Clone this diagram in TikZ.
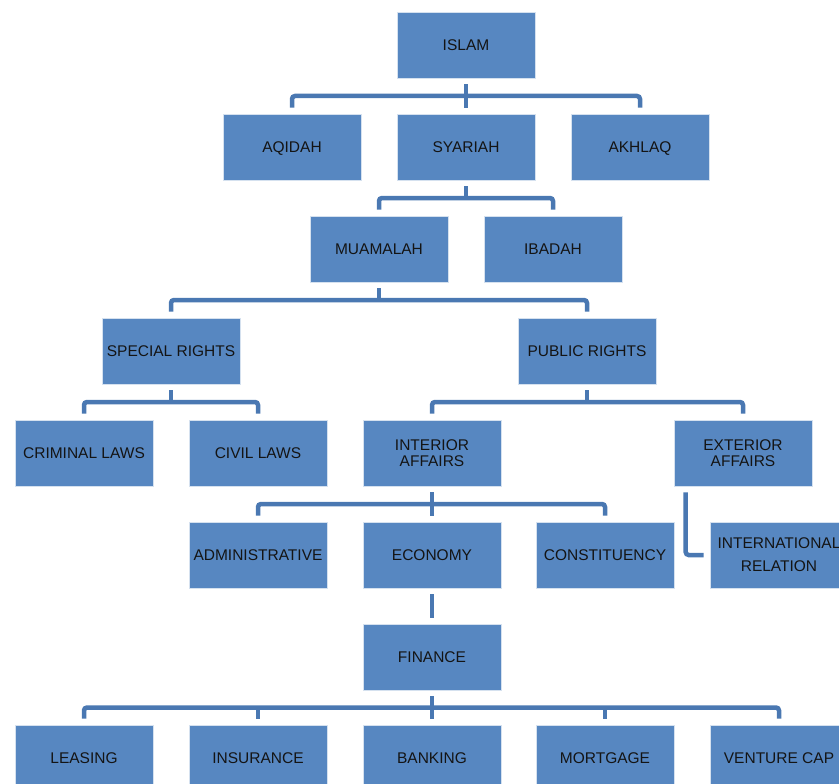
\documentclass[tikz,border=0pt]{standalone}
\usepackage{fontspec}
\setmainfont{Liberation Sans}
\usetikzlibrary{calc}
\definecolor{boxblue}{HTML}{5787C1}
\definecolor{linkblue}{HTML}{4A78B2}
\definecolor{inkdark}{HTML}{141414}
\begin{document}
\begin{tikzpicture}[x=1pt,y=-1pt,
  unit/.style={rectangle, fill=boxblue, draw=white!75!boxblue, line width=0.6pt,
    minimum width=138pt, minimum height=66pt, inner sep=0pt, align=center,
    text=inkdark, font=\fontsize{15.5}{16}\selectfont},
  nodepth/.style={text depth=0pt},
  link/.style={draw=linkblue, line width=4.5pt, rounded corners=3pt}]
\clip (0,0) rectangle (839,784);
\fill[white] (0,0) rectangle (839,784);

% boxes
\node[unit] (islam)     at (466,45)  {ISLAM};
\node[unit,nodepth] (aqidah) at (292,147) {AQIDAH};
\node[unit] (syariah)   at (466,147) {SYARIAH};
\node[unit,nodepth] (akhlaq) at (640,147) {AKHLAQ};
\node[unit] (muamalah)  at (379,249) {MUAMALAH};
\node[unit] (ibadah)    at (553,249) {IBADAH};
\node[unit] (special)   at (171,351) {SPECIAL RIGHTS};
\node[unit] (public)    at (587,351) {PUBLIC RIGHTS};
\node[unit] (criminal)  at (84,453)  {CRIMINAL LAWS};
\node[unit] (civil)     at (258,453) {CIVIL LAWS};
\node[unit] (interior)  at (432,453) {INTERIOR\\AFFAIRS};
\node[unit] (exterior)  at (743,453) {EXTERIOR\\AFFAIRS};
\node[unit] (admin)     at (258,555) {ADMINISTRATIVE};
\node[unit] (economy)   at (432,555) {ECONOMY};
\node[unit] (constit)   at (605,555) {CONSTITUENCY};
\node[unit] (intl)      at (779,555) {INTERNATIONAL\\[7pt]RELATION};
\node[unit] (finance)   at (432,657) {FINANCE};
\node[unit] (leasing)   at (84,758)  {LEASING};
\node[unit] (insurance) at (258,758) {INSURANCE};
\node[unit] (banking)   at (432,758) {BANKING};
\node[unit] (mortgage)  at (605,758) {MORTGAGE};
\node[unit] (venture)   at (779,758) {VENTURE CAP};

% bar levels between parents and children
\coordinate (b1) at ($(islam.south)!0.5!(syariah.north)$);
\coordinate (b2) at ($(syariah.south)!0.5!(muamalah.north)$);
\coordinate (b3) at ($(muamalah.south)!0.5!(special.north)$);
\coordinate (b4) at ($(special.south)!0.5!(criminal.north)$);
\coordinate (b5) at ($(public.south)!0.5!(interior.north)$);
\coordinate (b6) at ($(interior.south)!0.5!(economy.north)$);
\coordinate (b7) at ($(finance.south)!0.5!(banking.north)$);

% ISLAM
\draw[link] ([yshift=-6pt]islam.south) -- ([yshift=6pt]syariah.north);
\draw[link] ([yshift=6pt]aqidah.north) |- (b1) -| ([yshift=6pt]akhlaq.north);
% SYARIAH
\draw[link] ([yshift=-6pt]syariah.south) -- (syariah.south |- b2);
\draw[link] ([yshift=6pt]muamalah.north) |- (b2) -| ([yshift=6pt]ibadah.north);
% MUAMALAH
\draw[link] ([yshift=-6pt]muamalah.south) -- (muamalah.south |- b3);
\draw[link] ([yshift=6pt]special.north) |- (b3) -| ([yshift=6pt]public.north);
% SPECIAL RIGHTS
\draw[link] ([yshift=-6pt]special.south) -- (special.south |- b4);
\draw[link] ([yshift=6pt]criminal.north) |- (b4) -| ([yshift=6pt]civil.north);
% PUBLIC RIGHTS
\draw[link] ([yshift=-6pt]public.south) -- (public.south |- b5);
\draw[link] ([yshift=6pt]interior.north) |- (b5) -| ([yshift=6pt]exterior.north);
% INTERIOR AFFAIRS
\draw[link] ([yshift=-6pt]interior.south) -- ([yshift=6pt]economy.north);
\draw[link] ([yshift=6pt]admin.north) |- (b6) -| ([yshift=6pt]constit.north);
% EXTERIOR AFFAIRS
\draw[link] ([xshift=12pt,yshift=-6pt]exterior.south west) |- ([xshift=-6pt]intl.west);
% ECONOMY
\draw[link] ([yshift=-6pt]economy.south) -- ([yshift=6pt]finance.north);
% FINANCE
\draw[link] ([yshift=-6pt]finance.south) -- ([yshift=6pt]banking.north);
\draw[link] ([yshift=6pt]leasing.north) |- (b7) -| ([yshift=6pt]venture.north);
\draw[link] ([yshift=6pt]insurance.north) -- (insurance.north |- b7);
\draw[link] ([yshift=6pt]mortgage.north) -- (mortgage.north |- b7);
\end{tikzpicture}
\end{document}
